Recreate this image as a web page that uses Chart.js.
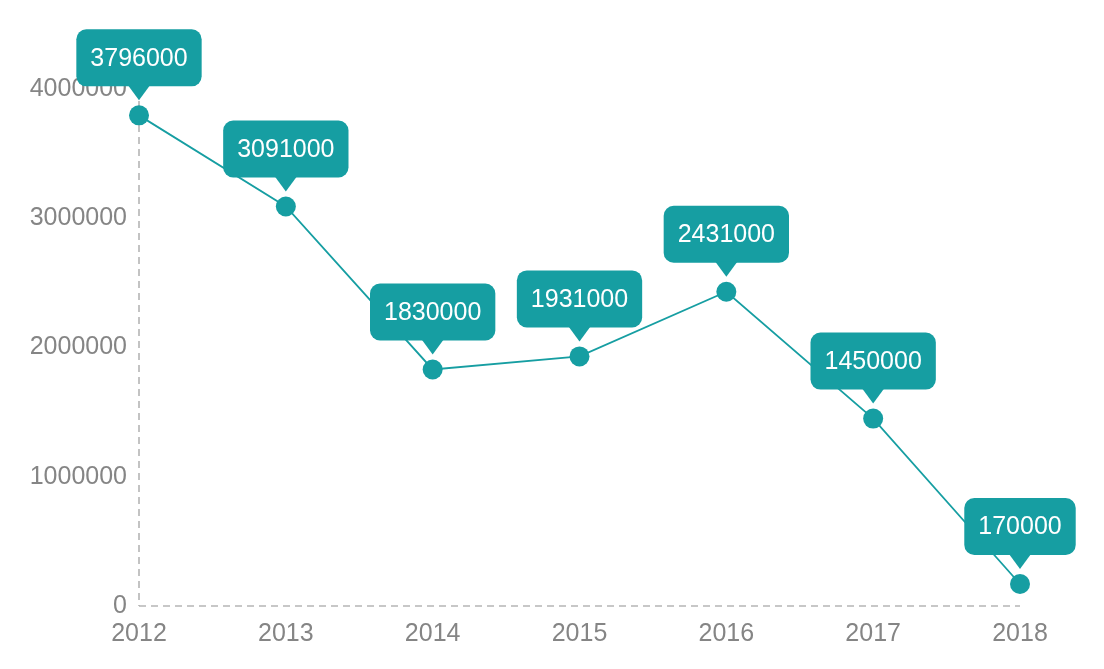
<!DOCTYPE html>
<html>
<head>
<meta charset="utf-8">
<script src="https://cdn.jsdelivr.net/npm/chart.js@4/dist/chart.umd.min.js"></script>
<style>
  html, body { margin: 0; padding: 0; background: #fff; }
  #wrap { width: 1104px; height: 669px; }
</style>
</head>
<body>
<div id="wrap"><canvas id="grafico" width="1104" height="669"></canvas></div>
<script>
// dados do gráfico
const anos = ['2012', '2013', '2014', '2015', '2016', '2017', '2018'];
const valores = [3796000, 3091000, 1830000, 1931000, 2431000, 1450000, 170000];
const ticksY = [0, 1000000, 2000000, 3000000, 4000000];

const TEAL = '#169ea2';
const FONTE = '"Liberation Sans", Arial, sans-serif';

// eixos tracejados (a borda do Chart.js não faz tracejado)
const eixos = {
  id: 'eixos',
  beforeDatasetsDraw(chart) {
    const { ctx, chartArea: a } = chart;
    ctx.save();
    ctx.strokeStyle = '#b5b5b5';
    ctx.lineWidth = 1.6;
    ctx.setLineDash([7, 5]);
    ctx.beginPath();
    ctx.moveTo(a.left, a.top);
    ctx.lineTo(a.left, a.bottom);
    ctx.moveTo(a.left, a.bottom);
    ctx.lineTo(a.right, a.bottom);
    ctx.stroke();
    ctx.restore();
  }
};

// caixinhas com o valor em cima de cada ponto
const rotulos = {
  id: 'rotulos',
  afterDatasetsDraw(chart) {
    const ctx = chart.ctx;
    const meta = chart.getDatasetMeta(0);
    ctx.save();
    ctx.font = '25px ' + FONTE;
    meta.data.forEach((pt, i) => {
      const txt = String(valores[i]);
      const w = ctx.measureText(txt).width + 28;
      const h = 57;
      const tip = pt.y - 15;
      const baixo = pt.y - 29;
      const x0 = pt.x - w / 2, y0 = baixo - h;
      ctx.fillStyle = TEAL;
      ctx.beginPath();
      ctx.roundRect(x0, y0, w, h, 10);
      ctx.fill();
      ctx.beginPath();
      ctx.moveTo(pt.x - 11, baixo - 1);
      ctx.lineTo(pt.x + 11, baixo - 1);
      ctx.lineTo(pt.x, tip);
      ctx.closePath();
      ctx.fill();
      ctx.fillStyle = '#fff';
      ctx.textAlign = 'center';
      ctx.textBaseline = 'middle';
      ctx.fillText(txt, pt.x, y0 + h / 2 + 1);
    });
    ctx.restore();
  }
};

new Chart(document.getElementById('grafico'), {
  type: 'line',
  data: {
    labels: anos,
    datasets: [{
      data: valores,
      borderColor: TEAL,
      backgroundColor: TEAL,
      borderWidth: 1.8,
      pointRadius: 10,
      pointHoverRadius: 10,
      pointBorderWidth: 0,
      tension: 0,
      clip: false
    }]
  },
  options: {
    responsive: false,
    devicePixelRatio: 1,
    animation: false,
    layout: { padding: { left: 0, right: 84, top: 89, bottom: 0 } },
    plugins: { legend: { display: false }, tooltip: { enabled: false } },
    scales: {
      x: {
        offset: false,
        afterFit: (s) => { s.height = 63; },
        grid: { display: false, drawTicks: false },
        border: { display: false },
        ticks: { color: '#858585', font: { family: FONTE, size: 25 }, padding: 13, maxRotation: 0 }
      },
      y: {
        min: 0,
        max: 4000000,
        afterFit: (s) => { s.width = 139; },
        afterBuildTicks: (s) => { s.ticks = ticksY.map(v => ({ value: v })); },
        grid: { display: false, drawTicks: false },
        border: { display: false },
        ticks: { color: '#858585', font: { family: FONTE, size: 25 }, padding: 12, callback: (v) => String(v) }
      }
    }
  },
  plugins: [eixos, rotulos]
});
</script>
</body>
</html>
